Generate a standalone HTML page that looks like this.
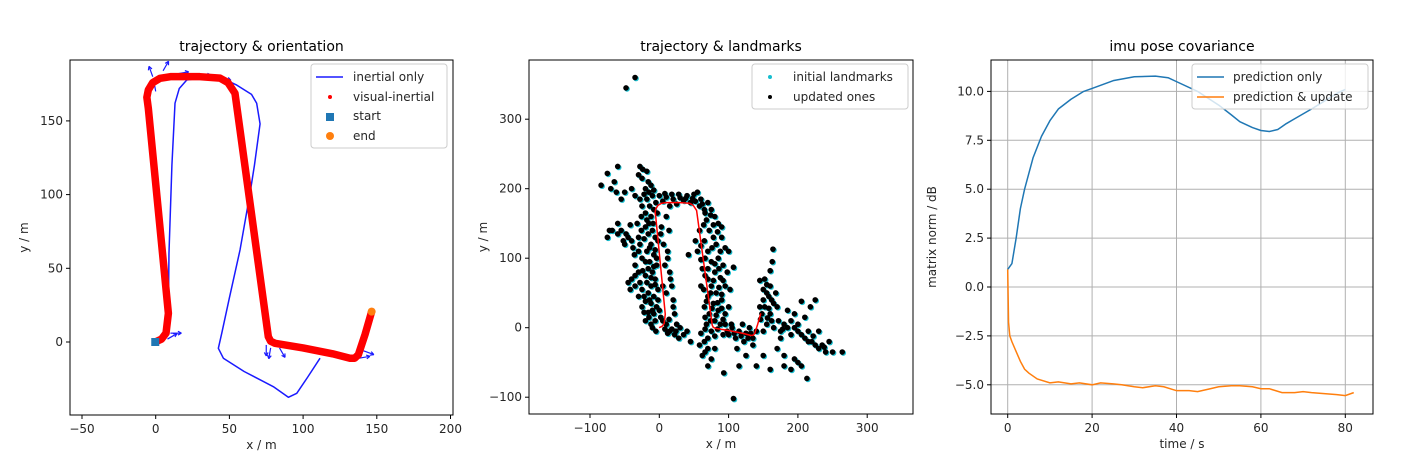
<!DOCTYPE html>
<html><head><meta charset="utf-8"><style>
body{margin:0;background:#fff}
svg{display:block;font-family:"DejaVu Sans","Liberation Sans",sans-serif}
</style></head><body>
<svg id="fig" width="1412" height="467" viewBox="0 0 1412 467"></svg>
<script>
// ---------- data ----------
const viX = [-0.3,4,7,8.6,-5,-6,-5,-2,3,10,30,43.6,49,53.8,76.4,78,81,100,120,131.8,135,137.5,142,146.5];
const viY = [0,2,6,19.5,158.5,166,171,176,178.9,180,180,179,176,168.7,3.6,0.5,-0.9,-4,-8,-11,-11,-8.6,5,20.6];
const inX = [8.6,9,11,13.1,16,21,30,45,55,65,68.5,70.8,67,64,57.2,50,44.8,42.5,45.9,60,79.8,90,95.7,103,111.5];
const inY = [18,60,120,162,172,177.7,179,179,174.3,168,162,148,120,100.9,62.4,30,5.9,-4.3,-11,-20,-30.3,-37.5,-34.8,-24,-11];
const arrowX = [-2,5,15,30,44,0,8,10,75,78,84,138,141];
const arrowY = [180,184,182,181,180,170,2,6,-2,-4,-4,-11,-6];
const arrowA = [110,60,10,0,-20,100,30,0,-90,-100,-60,10,-20];

const landmarks = [[-5,180],[-8,170],[-12,160],[-3,165],[-15,150],[-10,140],[-20,145],[-6,130],[-12,120],[-2,125],[-18,110],[-8,105],[-14,95],[-4,90],[-10,80],[-20,75],[-6,70],[-12,60],[-2,55],[-16,50],[-8,45],[-12,35],[-4,30],[0,25],[-8,20],[2,15],[5,10],[10,5],[15,-5],[22,-10],[30,0],[28,-15],[35,-10],[40,-5],[45,-20],[-22,45],[-25,55],[-30,80],[-35,90],[-25,100],[-28,120],[-30,130],[-40,125],[-45,130],[-50,120],[-52,125],[-38,115],[-48,135],[-60,150],[-55,140],[-42,148],[-20,165],[-25,175],[-15,195],[-20,200],[-25,215],[-30,220],[-35,190],[-28,185],[10,160],[14,140],[12,110],[15,80],[18,60],[20,40],[22,20],[5,60],[8,90],[6,120],[3,145],[42,105],[-40,70],[-35,75],[-45,65],[-42,55],[-35,60],[-25,30],[-20,10],[-15,15],[-10,0],[-5,-5],[25,5],[18,-2],
[-14,175],[-18,155],[-9,150],[-16,135],[-22,128],[-14,115],[-20,95],[-8,88],[-16,85],[-24,82],[-12,72],[-18,65],[-6,62],[-14,40],[-20,38],[-10,25],[-16,22],[-6,10],[-12,5],[-2,40],[-4,100],[-6,112],[-10,190],[-18,185],[-12,205],[-22,192],[-8,198],[12,100],[16,70],[10,50],[20,30],[14,12],[24,-5],[8,-2],[12,-8],[2,135],[-30,110],[-26,140],[-32,150],[-36,105],[-28,65],[-30,45],[-22,22],[-26,160],[-18,225],[-24,228],[-16,210],
[0,190],[10,188],[20,185],[30,187],[40,190],[50,192],[55,195],[45,180],[25,178],[15,175],[60,185],[65,170],[58,175],[35,183],[5,182],[8,193],[18,192],[28,192],[38,186],[48,186],[62,178],[52,182],
[-35,360],[-48,345],[-84,205],[-60,232],[-28,232],[-75,222],[-65,210],[-70,200],[-62,195],[-55,185],[-40,200],[-50,195],[-68,140],[-60,135],[-75,130],[-72,140],
[70,180],[75,170],[80,160],[68,155],[85,150],[72,140],[90,145],[78,130],[65,125],[82,120],[95,115],[70,110],[85,100],[75,95],[92,90],[62,85],[80,80],[70,70],[88,72],[95,60],[75,60],[82,50],[70,45],[90,40],[78,35],[85,25],[72,20],[95,20],[80,10],[68,5],[88,5],[75,-5],[60,-8],[65,-20],[70,-30],[62,-40],[75,-45],[60,98],[55,110],[52,125],[58,140],[90,130],[100,110],[98,80],[102,55],[60,60],[65,30],[100,30],[107,87],[93,-65],[70,-55],
[66,165],[74,162],[64,148],[78,148],[84,138],[60,118],[76,115],[88,110],[66,100],[80,92],[70,85],[86,85],[66,75],[78,68],[92,68],[64,55],[86,58],[74,50],[90,48],[68,38],[84,36],[76,28],[90,28],[66,15],[82,18],[74,10],[92,12],[66,-2],[84,-2],[92,-10],[70,-15],[80,-12],[58,-25],[66,-35],[80,-30],
[95,5],[105,0],[115,-5],[120,5],[125,-8],[110,-15],[130,0],[135,-15],[140,-5],[100,-10],[112,-30],[125,-40],[135,-25],[107,-102],[115,-55],[140,-55],[98,-5],[108,-8],[118,-12],[128,-15],[104,5],[122,-20],[132,-8],
[145,30],[150,40],[155,50],[160,60],[152,70],[158,45],[165,35],[148,20],[160,20],[162,10],[155,5],[150,-5],[145,68],[164,113],[163,95],[160,82],[168,50],[170,30],[165,0],[152,30],[158,28],[162,40],[155,62],[150,55],[146,12],[156,14],
[175,-5],[185,0],[190,10],[195,20],[200,5],[205,-10],[210,-15],[215,-5],[220,-20],[225,-25],[230,-30],[240,-35],[250,-35],[264,-35],[235,-25],[213,-73],[200,-50],[205,-55],[195,-45],[180,-40],[175,-15],[190,-10],[210,15],[218,30],[225,40],[205,38],[185,25],[170,-30],[180,-55],[160,-60],[150,-40],[230,-5],[245,-20],[190,-60],[180,5],[195,0],[200,-5],[215,-20],[222,-12],[238,-28],[172,10],[178,-2]];

const tP = [0,1,2,3,4,5,6,8,10,12,15,18,20,25,30,35,38,40,45,50,53,55,58,60,62,64,66,68,72,75,78,80];
const predOnly = [0.9,1.2,2.5,4,5,5.8,6.6,7.7,8.5,9.1,9.6,10.0,10.15,10.55,10.75,10.78,10.7,10.5,10.0,9.3,8.8,8.45,8.15,8.0,7.95,8.05,8.35,8.6,9.1,9.5,9.9,10.1];
const tU = [0,0.2,0.5,1,2,3,4,5,7,10,12,15,17,20,22,25,27,30,32,35,37,40,43,45,48,50,53,55,58,60,62,65,68,70,72,75,78,80,82];
const predUpd = [0.9,-1.8,-2.5,-2.8,-3.3,-3.8,-4.2,-4.4,-4.7,-4.9,-4.85,-4.95,-4.9,-5.0,-4.9,-4.95,-5.0,-5.1,-5.15,-5.05,-5.1,-5.3,-5.3,-5.35,-5.2,-5.1,-5.05,-5.05,-5.1,-5.2,-5.2,-5.4,-5.4,-5.35,-5.4,-5.45,-5.5,-5.55,-5.4];

const p1XTicks=[-50,0,50,100,150,200], p1YTicks=[0,50,100,150];
const p2XTicks=[-100,0,100,200,300], p2YTicks=[-100,0,100,200,300];
const p3XTicks=[0,20,40,60,80], p3YTicks=[-5,-2.5,0,2.5,5,7.5,10];

// ---------- helpers ----------
const NS="http://www.w3.org/2000/svg", svg=document.getElementById('fig');
function mk(tag,attrs,parent){const e=document.createElementNS(NS,tag);for(const k in attrs)e.setAttribute(k,attrs[k]);(parent||svg).appendChild(e);return e;}
function txt(s,x,y,size,anchor,parent,extra){const t=mk('text',Object.assign({x:x,y:y,'font-size':size,'text-anchor':anchor||'middle',fill:'#262626'},extra||{}),parent);t.textContent=s;return t;}
function fmt(v,dec){let s=dec?v.toFixed(1):String(v);return s.replace('-','\u2212');}

function axes(name,box,xs,ys,xt,yt,title,xl,yl,grid,dec){
  const g=mk('g',{});
  
  
  if(grid){xt.forEach(v=>mk('line',{x1:xs(v),x2:xs(v),y1:box.y0,y2:box.y1,stroke:'#b0b0b0','stroke-width':1},g));
           yt.forEach(v=>mk('line',{x1:box.x0,x2:box.x1,y1:ys(v),y2:ys(v),stroke:'#b0b0b0','stroke-width':1},g));}
  xt.forEach(v=>{mk('line',{x1:xs(v),x2:xs(v),y1:box.y1,y2:box.y1+4,stroke:'#000'},g);
    const t=txt(fmt(v,false),xs(v),box.y1+18,12,'middle',g);
    
    });
  yt.forEach(v=>{mk('line',{x1:box.x0-4,x2:box.x0,y1:ys(v),y2:ys(v),stroke:'#000'},g);
    const t=txt(fmt(v,dec),box.x0-7,ys(v)+4,12,'end',g);
    
    });
  const tt=txt(title,(box.x0+box.x1)/2,51,14,'middle',g,{fill:'#000'});
  
  
  const xa=txt(xl,(box.x0+box.x1)/2,box.y1+34,12,'middle',g);
  
  
  const cy=(box.y0+box.y1)/2, cx=box.x0-(dec?55:42);
  const ya=txt(yl,cx,cy,12,'middle',g,{transform:`rotate(-90 ${cx} ${cy})`});
  
  
  return g;
}
function frame(box,g){mk('rect',{x:box.x0,y:box.y0,width:box.x1-box.x0,height:box.y1-box.y0,fill:'none',stroke:'#000','stroke-width':1},g);}
function clip(id,box){const d=mk('clipPath',{id:id});mk('rect',{x:box.x0,y:box.y0,width:box.x1-box.x0,height:box.y1-box.y0},d);}

// ---------- panel 1 ----------
const b1={x0:70,x1:453,y0:60,y1:415};
const x1=v=>155.7+v*1.474, y1=v=>342-v*1.474;
const g1=axes('trajectory-orientation-chart',b1,x1,y1,p1XTicks,p1YTicks,'trajectory & orientation','x / m','y / m',false,false);
clip('c1',b1);
const d1=mk('g',{'clip-path':'url(#c1)'},g1);
const inl=mk('polyline',{points:inX.map((v,i)=>x1(v)+','+y1(inY[i])).join(' '),fill:'none',stroke:'#1a1aff','stroke-width':1.5,'stroke-linejoin':'round'},d1);


arrowX.forEach((v,i)=>{const px=x1(v),py=y1(arrowY[i]),a=arrowA[i]*Math.PI/180,L=11;
  const ex=px+L*Math.cos(a),ey=py-L*Math.sin(a);
  const ar=mk('line',{x1:px,y1:py,x2:ex,y2:ey,stroke:'#1a1aff','stroke-width':1.2},d1);
  
  
  const h=a+Math.PI;[0.5,-0.5].forEach(o=>mk('line',{x1:ex,y1:ey,x2:ex+4*Math.cos(h+o),y2:ey-4*Math.sin(h+o),stroke:'#1a1aff','stroke-width':1.2},d1));});
const vil=mk('polyline',{points:viX.map((v,i)=>x1(v)+','+y1(viY[i])).join(' '),fill:'none',stroke:'#ff0000','stroke-width':7.5,'stroke-linejoin':'round','stroke-linecap':'round'},d1);


const st=mk('rect',{x:x1(viX[0])-4,y:y1(viY[0])-4,width:8,height:8,fill:'#1f77b4'},d1);


const en=mk('circle',{cx:x1(viX[viX.length-1]),cy:y1(viY[viY.length-1]),r:4,fill:'#ff7f0e'},d1);


frame(b1,g1);
const l1=mk('g',{},g1);


mk('rect',{x:311,y:64,width:136,height:84,rx:3,fill:'#fff','fill-opacity':0.8,stroke:'#ccc'},l1);
mk('line',{x1:316,x2:343,y1:77,y2:77,stroke:'#1a1aff','stroke-width':1.5},l1);
txt('inertial only',353,81,12,'start',l1);
mk('circle',{cx:330,cy:97,r:2,fill:'#f00'},l1);txt('visual-inertial',353,101,12,'start',l1);
mk('rect',{x:326,y:113,width:8,height:8,fill:'#1f77b4'},l1);txt('start',353,120,12,'start',l1);
mk('circle',{cx:330,cy:136,r:4,fill:'#ff7f0e'},l1);txt('end',353,140,12,'start',l1);

// ---------- panel 2 ----------
const b2={x0:529,x1:913,y0:60,y1:414};
const x2=v=>659.3+v*0.693, y2=v=>327.7-v*0.695;
const g2=axes('trajectory-landmarks-chart',b2,x2,y2,p2XTicks,p2YTicks,'trajectory & landmarks','x / m','y / m',false,false);
clip('c2',b2);
const d2=mk('g',{'clip-path':'url(#c2)'},g2);
landmarks.forEach(p=>{const c=mk('circle',{cx:x2(p[0])+1,cy:y2(p[1])+1,r:2.8,fill:'#17becf'},d2);
  
  });
landmarks.forEach(p=>{const c=mk('circle',{cx:x2(p[0]),cy:y2(p[1]),r:2.8,fill:'#000'},d2);
  
  });
const tr2=mk('polyline',{points:viX.map((v,i)=>x2(v)+','+y2(viY[i])).join(' '),fill:'none',stroke:'#ff0000','stroke-width':1.5,'stroke-linejoin':'round'},d2);


frame(b2,g2);
const l2=mk('g',{},g2);


mk('rect',{x:752,y:64,width:156,height:45,rx:3,fill:'#fff','fill-opacity':0.8,stroke:'#ccc'},l2);
mk('circle',{cx:770,cy:77,r:2,fill:'#17becf'},l2);txt('initial landmarks',793,81,12,'start',l2);
mk('circle',{cx:770,cy:97,r:2,fill:'#000'},l2);txt('updated ones',793,101,12,'start',l2);

// ---------- panel 3 ----------
const b3={x0:991,x1:1373,y0:60,y1:414};
const x3=v=>1007.7+v*4.22, y3=v=>287-v*19.56;
const g3=axes('imu-covariance-chart',b3,x3,y3,p3XTicks,p3YTicks,'imu pose covariance','time / s','matrix norm / dB',true,true);
const po=mk('polyline',{points:tP.map((v,i)=>x3(v)+','+y3(predOnly[i])).join(' '),fill:'none',stroke:'#1f77b4','stroke-width':1.5,'stroke-linejoin':'round'},g3);


const pu=mk('polyline',{points:tU.map((v,i)=>x3(v)+','+y3(predUpd[i])).join(' '),fill:'none',stroke:'#ff7f0e','stroke-width':1.5},g3);


frame(b3,g3);
const l3=mk('g',{},g3);


mk('rect',{x:1192,y:64,width:176,height:45,rx:3,fill:'#fff','fill-opacity':0.8,stroke:'#ccc'},l3);
mk('line',{x1:1197,x2:1224,y1:77,y2:77,stroke:'#1f77b4','stroke-width':1.5},l3);txt('prediction only',1233,81,12,'start',l3);
mk('line',{x1:1197,x2:1224,y1:97,y2:97,stroke:'#ff7f0e','stroke-width':1.5},l3);txt('prediction & update',1233,101,12,'start',l3);
</script>
</body></html>
